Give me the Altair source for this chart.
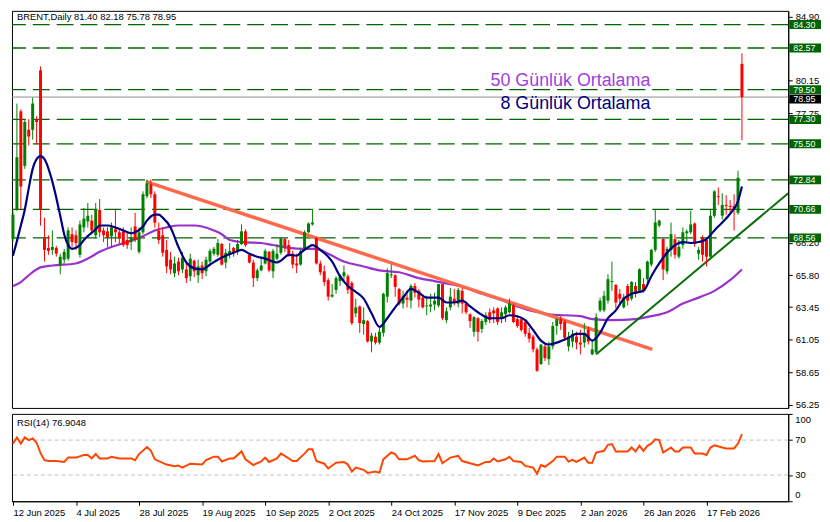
import altair as alt
import pandas as pd

# ---------------- data ----------------
opens = [
68.47, 70.63, 77.90, 73.87, 76.53, 76.53, 77.32, 80.92, 68.61, 67.82,
67.67, 67.82, 66.52, 66.95, 67.03, 68.83, 68.75, 67.31, 69.33, 69.77,
69.83, 68.75, 70.63, 69.11, 69.04, 68.68, 69.19, 68.97, 69.04, 68.40,
68.25, 69.40, 67.53, 68.97, 71.63, 72.50, 71.78, 69.11, 68.75, 67.67,
66.95, 65.95, 66.81, 66.23, 66.23, 65.73, 66.88, 65.80, 66.52, 66.09,
66.81, 67.39, 67.31, 68.11, 66.74, 67.31, 67.82, 67.53, 68.11, 69.04,
67.31, 66.74, 65.59, 66.16, 66.67, 67.53, 66.09, 67.03, 67.46, 68.47,
68.03, 67.39, 66.67, 66.59, 67.75, 68.97, 69.55, 68.54, 66.67, 66.09,
65.44, 64.22, 64.72, 65.37, 65.73, 65.73, 65.23, 62.99, 63.50, 62.20,
62.42, 60.91, 61.27, 60.83, 61.55, 64.22, 65.80, 65.80, 64.79, 63.71,
64.15, 63.93, 65.01, 64.65, 64.15, 63.50, 63.50, 63.64, 63.57, 65.15,
62.49, 63.43, 64.07, 63.71, 64.65, 63.71, 62.92, 61.63, 62.63, 61.84,
62.35, 63.07, 63.21, 63.35, 62.63, 62.92, 63.07, 63.57, 62.56, 62.56,
62.35, 61.55, 61.27, 60.33, 59.25, 60.55, 59.61, 60.55, 62.06, 62.56,
62.35, 60.55, 60.91, 61.27, 60.83, 60.83, 61.77, 59.97, 60.11, 63.21,
63.21, 63.93, 65.30, 65.08, 64.43, 63.43, 65.01, 64.07, 65.01, 64.65,
65.15, 65.51, 66.59, 67.67, 69.47, 68.47, 66.09, 67.67, 68.47, 67.17,
68.03, 68.90, 68.97, 69.62, 67.39, 68.61, 68.40, 67.17, 70.19, 71.63,
70.19, 70.99, 70.91, 70.91, 70.41, 81.40]

highs = [
70.55, 78.47, 78.04, 77.32, 77.32, 78.91, 77.54, 81.21, 70.05, 68.75,
69.11, 67.96, 67.39, 67.75, 69.33, 69.33, 69.11, 69.83, 70.77, 71.13,
70.27, 71.13, 71.42, 69.33, 69.33, 69.69, 70.70, 69.26, 69.33, 68.97,
69.33, 70.41, 69.33, 71.99, 72.86, 72.86, 71.99, 69.69, 69.33, 68.40,
67.53, 67.17, 67.10, 67.53, 66.67, 67.39, 66.95, 66.95, 66.81, 67.17,
67.75, 67.89, 68.47, 68.18, 67.75, 68.18, 67.89, 68.40, 69.55, 69.19,
67.39, 66.95, 66.31, 67.17, 67.75, 67.60, 67.75, 68.11, 68.54, 68.54,
68.40, 67.60, 67.39, 67.75, 69.11, 69.69, 70.70, 68.61, 66.88, 66.52,
65.59, 65.15, 65.73, 65.87, 66.52, 65.87, 65.37, 64.07, 63.57, 63.43,
62.49, 61.55, 61.55, 61.92, 64.51, 66.31, 66.59, 65.87, 64.87, 64.65,
64.65, 65.15, 65.23, 64.79, 64.29, 64.29, 64.43, 64.51, 65.15, 65.15,
63.43, 64.87, 64.79, 64.87, 64.87, 63.71, 62.99, 62.78, 62.71, 62.56,
63.07, 63.35, 63.43, 63.43, 63.43, 63.57, 64.07, 63.71, 62.85, 62.71,
62.49, 61.92, 61.41, 60.47, 60.69, 60.69, 60.91, 62.35, 62.63, 62.78,
62.49, 61.63, 61.77, 61.63, 61.77, 62.27, 61.99, 61.05, 62.99, 64.15,
64.65, 65.87, 66.81, 65.15, 64.79, 64.43, 65.15, 65.37, 65.30, 66.31,
65.59, 66.88, 67.75, 70.63, 69.91, 68.54, 67.89, 69.69, 68.83, 68.40,
69.33, 69.19, 70.55, 69.69, 67.89, 68.75, 68.54, 70.63, 72.07, 72.28,
71.85, 71.71, 71.35, 71.78, 73.51, 82.18]

lows = [
68.25, 70.55, 70.63, 73.65, 75.38, 75.81, 75.45, 69.47, 66.81, 67.31,
67.31, 67.17, 65.87, 66.67, 66.88, 67.89, 67.67, 67.10, 68.97, 69.33,
68.83, 68.54, 68.61, 68.25, 67.89, 67.89, 68.25, 68.11, 67.89, 67.75,
67.67, 68.25, 67.39, 68.83, 71.49, 71.49, 69.33, 68.11, 67.17, 65.95,
65.87, 65.66, 65.80, 65.95, 65.23, 65.37, 65.66, 65.23, 65.52, 65.73,
66.45, 67.24, 67.17, 66.52, 66.31, 67.03, 67.17, 67.31, 68.03, 67.89,
66.67, 64.94, 65.37, 66.09, 66.59, 66.02, 65.59, 66.88, 67.31, 67.53,
67.17, 66.31, 65.95, 66.52, 67.67, 68.90, 69.47, 66.59, 65.80, 65.01,
63.93, 64.15, 64.43, 65.01, 65.37, 64.43, 62.13, 62.71, 61.55, 61.41,
60.83, 60.11, 60.69, 60.69, 61.27, 63.79, 65.59, 64.22, 63.57, 63.35,
63.43, 63.35, 64.15, 63.43, 63.35, 62.85, 63.07, 63.21, 63.43, 62.49,
62.27, 63.21, 63.57, 63.43, 62.99, 62.92, 61.92, 61.27, 60.91, 61.55,
62.13, 62.27, 62.27, 62.13, 62.27, 62.35, 62.99, 62.27, 61.92, 61.63,
61.27, 60.83, 60.11, 58.67, 59.18, 59.47, 59.18, 60.33, 61.41, 61.77,
61.05, 60.19, 60.47, 60.33, 59.97, 60.47, 60.69, 59.90, 59.97, 63.07,
63.07, 63.71, 64.65, 63.35, 63.71, 63.35, 63.57, 63.93, 64.15, 64.51,
64.51, 65.23, 66.45, 67.53, 69.33, 65.44, 65.87, 67.17, 67.03, 67.03,
67.75, 68.25, 68.83, 67.89, 66.95, 66.81, 66.45, 66.95, 70.05, 70.99,
69.91, 70.27, 70.41, 69.11, 70.27, 75.78]

closes = [
70.27, 74.51, 72.35, 77.11, 76.03, 78.47, 77.11, 70.63, 67.67, 67.60,
67.89, 67.39, 67.17, 67.53, 69.11, 68.25, 68.18, 69.55, 69.98, 70.19,
69.11, 70.63, 68.97, 68.75, 68.61, 69.33, 68.97, 68.54, 68.03, 68.03,
68.54, 68.40, 68.97, 71.78, 72.57, 71.78, 69.69, 68.40, 67.46, 66.45,
66.23, 66.67, 66.09, 67.10, 65.59, 67.03, 66.09, 66.45, 65.95, 66.95,
67.60, 67.75, 68.18, 66.59, 67.46, 67.60, 67.46, 68.11, 69.04, 68.03,
66.74, 65.59, 66.16, 66.52, 67.60, 66.16, 67.60, 67.39, 68.54, 67.89,
67.31, 66.59, 66.52, 67.60, 68.97, 69.62, 69.69, 66.67, 66.02, 65.30,
64.22, 64.36, 65.59, 65.73, 66.02, 64.72, 62.27, 63.43, 62.27, 62.49,
60.91, 61.34, 60.83, 61.63, 64.43, 65.95, 65.87, 64.94, 63.71, 64.29,
64.00, 65.01, 64.51, 64.00, 63.43, 63.57, 63.64, 63.93, 65.15, 62.63,
63.14, 64.22, 63.79, 64.72, 63.71, 63.07, 62.42, 62.71, 61.63, 62.42,
62.85, 62.49, 62.99, 62.35, 63.07, 63.43, 63.71, 62.35, 62.06, 61.77,
61.48, 61.12, 60.33, 58.75, 60.69, 59.68, 60.55, 62.06, 62.56, 62.20,
61.19, 61.27, 61.48, 60.83, 60.69, 61.55, 60.91, 60.33, 62.71, 63.93,
64.29, 65.51, 65.37, 63.79, 64.07, 64.15, 63.93, 65.30, 64.43, 66.23,
64.65, 66.81, 67.67, 69.69, 69.83, 66.23, 67.75, 68.83, 67.31, 67.89,
68.97, 69.04, 69.55, 68.11, 67.67, 67.31, 67.17, 70.19, 71.99, 71.56,
70.99, 70.91, 70.84, 70.70, 73.00, 78.95]

ma8_idx = [0, 1, 2, 3, 4, 5, 6, 7, 8, 10, 12, 13, 14, 15, 17, 18, 21, 22, 24, 26, 28, 30, 31,
           33, 34, 36, 37, 38, 40, 42, 44, 46, 48, 50, 52, 54, 56, 58, 60, 62, 64, 66, 67, 68,
           70, 72, 73, 75, 76, 78, 80, 81, 83, 85, 87, 89, 91, 93, 95, 97, 99, 101, 103, 105,
           108, 110, 112, 114, 116, 118, 121, 124, 126, 128, 130, 132, 134, 136, 138, 141, 143,
           145, 147, 149, 151, 153, 155, 157, 160, 162, 164, 166, 168, 170, 172, 174, 176, 178,
           180, 182, 184, 185]
ma8_val = [67.24, 68.32, 69.47, 70.63, 72.21, 73.65, 74.37, 74.59, 74.37, 72.71, 70.19, 68.83,
           68.03, 67.75, 68.03, 68.40, 69.19, 69.47, 69.47, 69.33, 69.11, 68.90, 68.97, 69.40,
           69.83, 70.27, 70.27, 70.05, 69.33, 67.89, 66.74, 66.31, 66.23, 66.59, 66.95, 67.24,
           67.46, 67.67, 67.39, 67.17, 67.03, 66.81, 66.74, 66.88, 67.31, 67.24, 67.46, 67.89,
           68.03, 67.67, 67.17, 66.81, 65.73, 65.01, 64.58, 64.07, 63.00, 61.99, 62.63, 63.43,
           64.15, 64.79, 64.51, 64.15, 64.15, 63.79, 63.79, 63.93, 63.50, 63.07, 62.63, 62.63,
           62.85, 62.78, 62.49, 61.77, 60.98, 60.69, 60.83, 61.19, 61.48, 61.48, 60.98, 61.55,
           62.63, 63.21, 64.07, 64.43, 64.65, 65.73, 66.67, 67.46, 68.03, 68.25, 68.18, 68.25,
           68.47, 69.11, 69.69, 70.34, 71.27, 72.35]

ma50_idx = [0, 2, 4, 7, 10, 16, 19, 22, 25, 29, 33, 36, 39, 42, 46, 48, 51, 53, 55, 58, 63, 66,
            70, 74, 77, 80, 84, 89, 93, 98, 103, 107, 111, 115, 119, 123, 128, 132, 136, 140,
            144, 147, 152, 158, 162, 166, 170, 174, 178, 182, 185]
ma50_val = [65.01, 65.30, 65.80, 66.38, 66.52, 66.67, 67.03, 67.53, 67.89, 68.25, 68.68, 69.11,
            69.33, 69.47, 69.47, 69.40, 69.11, 68.83, 68.40, 68.25, 68.18, 68.03, 67.82, 67.75,
            67.75, 67.39, 66.81, 66.45, 66.16, 66.02, 65.59, 65.37, 65.15, 64.87, 64.43, 64.07,
            63.50, 63.14, 62.92, 62.85, 62.78, 62.56, 62.49, 62.56, 62.78, 63.07, 63.71, 64.15,
            64.65, 65.44, 66.23]

rsi_idx = [0, 1, 2, 3, 4, 5, 6, 7, 8, 9, 11, 13, 14, 16, 18, 19, 20, 21, 22, 24, 25, 27, 30, 31,
           32, 34, 35, 36, 38, 39, 41, 42, 43, 45, 48, 49, 51, 52, 53, 55, 56, 58, 59, 61, 63, 64,
           65, 67, 68, 69, 71, 72, 74, 75, 76, 77, 79, 80, 82, 84, 85, 86, 87, 89, 90, 92, 93, 94,
           96, 97, 98, 100, 102, 103, 104, 107, 108, 109, 111, 113, 114, 116, 118, 120, 121, 122,
           123, 125, 126, 127, 129, 130, 132, 133, 134, 135, 137, 138, 140, 141, 142, 143, 145,
           146, 147, 148, 150, 151, 152, 153, 156, 157, 158, 159, 160, 161, 162, 163, 164, 165,
           167, 168, 169, 170, 172, 173, 175, 176, 177, 178, 180, 181, 183, 184, 185]
rsi_val = [66, 73, 66, 73, 70, 72, 67, 55, 47, 46, 46, 45, 50, 50, 53, 53, 49, 54, 49, 49, 51, 49,
           49, 47, 54, 62, 58, 48, 44, 42, 40, 41, 38.5, 43, 42, 47, 51, 51, 45.5, 49, 49, 57, 48,
           41.5, 45.5, 50, 45, 49, 54.5, 52, 46, 46, 54.5, 59.5, 59.5, 46, 43, 37.5, 44, 45, 42,
           34, 38.5, 36, 32.5, 34, 32.5, 48, 55.8, 54, 48, 48, 52, 47, 45.5, 46, 54, 43.5, 50, 52,
           46, 43.5, 41, 45, 45, 49, 45.5, 48, 51, 46, 45, 40.5, 38.5, 31.5, 41.5, 39.5, 46, 51,
           51, 45.5, 47.3, 45, 50, 44, 44, 55.8, 57.7, 64.6, 65.4, 57, 57, 61.5, 57, 63.5, 57.7,
           63.5, 66, 71, 70, 55.8, 61.5, 57, 57, 61.5, 61.5, 54.6, 54.6, 53, 61.5, 64, 61.5, 60.4,
           60.4, 66, 76.9]

levels = [84.30, 82.57, 79.50, 77.30, 75.50, 72.84, 70.66, 68.56]
last_price = 78.95
price_ticks = [84.90, 80.15, 77.75, 68.20, 65.80, 63.45, 61.05, 58.65, 56.25]
rsi_ticks = [0, 30, 70, 100]
rsi_levels = [70, 30]
date_labels = ['12 Jun 2025', '4 Jul 2025', '28 Jul 2025', '19 Aug 2025', '10 Sep 2025', '2 Oct 2025',
               '24 Oct 2025', '17 Nov 2025', '9 Dec 2025', '2 Jan 2026', '26 Jan 2026', '17 Feb 2026']
date_ticks = [0, 16, 32, 48, 64, 80, 96, 112, 128, 144, 160, 176]
down_trend = ([33.75, 162.25], [72.71, 60.33])
up_trend = ([148, 196.75], [59.97, 71.85])
legend_texts = ['50 Günlük Ortalama', '8 Günlük Ortalama']
legend_prices = [80.13, 78.47]
legend_colors = ['#A040E0', '#000080']
header = 'BRENT,Daily  81.40 82.18 75.78 78.95'
rsi_header = 'RSI(14) 76.9048'

n = len(closes)
assert len(opens) == n == len(highs) == len(lows) == 186
assert len(ma8_idx) == len(ma8_val)
assert len(ma50_idx) == len(ma50_val)
assert len(rsi_idx) == len(rsi_val)

# ---------------- frames ----------------
candles = pd.DataFrame({'i': list(range(n)), 'open': opens, 'high': highs, 'low': lows, 'close': closes})
candles['dir'] = ['up' if c >= o else 'down' for o, c in zip(opens, closes)]
ma8 = pd.DataFrame({'i': ma8_idx, 'v': ma8_val})
ma50 = pd.DataFrame({'i': ma50_idx, 'v': ma50_val})
rsi = pd.DataFrame({'i': rsi_idx, 'v': rsi_val})
lv = pd.DataFrame({'p': levels, 'lab': [f'{v:.2f}' for v in levels]})
lp = pd.DataFrame({'p': [last_price], 'lab': [f'{last_price:.2f}']})
dt = pd.DataFrame({'i': down_trend[0], 'v': down_trend[1]})
ut = pd.DataFrame({'i': up_trend[0], 'v': up_trend[1]})
leg = pd.DataFrame({'t': legend_texts, 'p': legend_prices, 'c': legend_colors, 'i': [161.75, 161.75]})

W = 782
HM = 400
HR = 88
FONT = 'Liberation Sans'
FS = 9.5

xs = alt.Scale(domain=[-0.25, 196.75], nice=False, zero=False, padding=0)
ys = alt.Scale(domain=[56.01, 85.31], nice=False, zero=False, padding=0)
X = alt.X('i:Q', scale=xs, axis=None)

col = alt.Color('dir:N', scale=alt.Scale(domain=['up', 'down'], range=['#008000', '#FF0000']), legend=None)

yaxis = alt.Axis(orient='right', values=price_ticks, format='.2f', title=None, tickSize=4,
                 labelPadding=3, grid=False, labelOverlap=False)


def Y(field):
    return alt.Y(field, scale=ys, axis=yaxis)


hlines = alt.Chart(lv).mark_rule(color='#006400', strokeWidth=1.3, strokeDash=[17, 7]).encode(y=Y('p:Q'))
gline = alt.Chart(lp).mark_rule(color='#8C8C8C', strokeWidth=1).encode(y=Y('p:Q'))
wicks = alt.Chart(candles).mark_rule(strokeWidth=1).encode(x=X, y=Y('low:Q'), y2='high:Q', color=col)
bodies = alt.Chart(candles).mark_bar(size=3).encode(x=X, y=Y('open:Q'), y2='close:Q', color=col)
l50 = alt.Chart(ma50).mark_line(color='#9932CC', strokeWidth=2.2, interpolate='monotone').encode(x=X, y=Y('v:Q'))
l8 = alt.Chart(ma8).mark_line(color='#000080', strokeWidth=2.2, interpolate='monotone').encode(x=X, y=Y('v:Q'))
dtl = alt.Chart(dt).mark_line(color='#FF6A4D', strokeWidth=3.5, clip=True).encode(x=X, y=Y('v:Q'))
utl = alt.Chart(ut).mark_line(color='#0A6E0A', strokeWidth=2, clip=True).encode(x=X, y=Y('v:Q'))
legt = alt.Chart(leg).mark_text(align='right', baseline='middle', font=FONT, fontSize=18).encode(
    x=X, y=Y('p:Q'), text='t:N', color=alt.Color('c:N', scale=None))
hdr = alt.Chart(pd.DataFrame({'t': [header]})).mark_text(
    align='left', baseline='middle', font=FONT, fontSize=FS, color='black').encode(
    x=alt.value(5), y=alt.value(6), text='t:N')

boxes = alt.Chart(lv).mark_rect(color='#006400', yOffset=-4.5, y2Offset=4.5).encode(
    x=alt.value(W + 1), x2=alt.value(W + 33), y=Y('p:Q'), y2='p:Q')
boxt = alt.Chart(lv).mark_text(align='left', baseline='middle', font=FONT, fontSize=9, color='white').encode(
    x=alt.value(W + 5), y=Y('p:Q'), text='lab:N')
lbox = alt.Chart(lp).mark_rect(color='black', yOffset=-2.5, y2Offset=6.5).encode(
    x=alt.value(W + 1), x2=alt.value(W + 33), y=Y('p:Q'), y2='p:Q')
lboxt = alt.Chart(lp).mark_text(align='left', baseline='middle', font=FONT, fontSize=9, color='white',
                                dy=2).encode(
    x=alt.value(W + 5), y=Y('p:Q'), text='lab:N')

main = alt.layer(hlines, gline, l50, dtl, utl, wicks, bodies, l8, legt, hdr, boxes, boxt, lbox, lboxt).properties(
    width=W, height=HM)

# ---------------- RSI panel ----------------
rs = alt.Scale(domain=[0, 100], nice=False, zero=False, padding=0)
label_expr = '[' + ','.join(f"'{d}'" for d in date_labels) + '][round(datum.value/16)]'
xaxis = alt.Axis(values=date_ticks, labelExpr=label_expr, title=None, tickSize=4, labelAlign='left',
                 labelPadding=2, labelFlush=False, grid=False, labelOverlap=False)
raxis = alt.Axis(orient='right', values=rsi_ticks, title=None, tickSize=4, labels=False, grid=False)
rguides = alt.Chart(pd.DataFrame({'v': rsi_levels})).mark_rule(color='#C0C0C0', strokeDash=[4, 3]).encode(
    y=alt.Y('v:Q', scale=rs, axis=raxis))
rline = alt.Chart(rsi).mark_line(color='#FF4500', strokeWidth=2).encode(
    x=alt.X('i:Q', scale=xs, axis=xaxis), y=alt.Y('v:Q', scale=rs, axis=raxis))
rhdr = alt.Chart(pd.DataFrame({'t': [rsi_header]})).mark_text(
    align='left', baseline='middle', font=FONT, fontSize=FS, color='black').encode(
    x=alt.value(5), y=alt.value(9), text='t:N')
mid_ticks = pd.DataFrame({'v': rsi_ticks[1:3], 'lab': [str(v) for v in rsi_ticks[1:3]]})
top_tick = pd.DataFrame({'v': rsi_ticks[3:], 'lab': [str(v) for v in rsi_ticks[3:]]})
bot_tick = pd.DataFrame({'v': rsi_ticks[:1], 'lab': [str(v) for v in rsi_ticks[:1]]})
rl_mid = alt.Chart(mid_ticks).mark_text(align='left', baseline='middle', font=FONT, fontSize=FS,
                                        color='black').encode(
    x=alt.value(W + 7), y=alt.Y('v:Q', scale=rs, axis=raxis), text='lab:N')
rl_top = alt.Chart(top_tick).mark_text(align='left', baseline='top', font=FONT, fontSize=FS, color='black',
                                       dy=1).encode(
    x=alt.value(W + 7), y=alt.Y('v:Q', scale=rs, axis=raxis), text='lab:N')
rl_bot = alt.Chart(bot_tick).mark_text(align='left', baseline='bottom', font=FONT, fontSize=FS,
                                       color='black', dy=-1).encode(
    x=alt.value(W + 7), y=alt.Y('v:Q', scale=rs, axis=raxis), text='lab:N')
lower = alt.layer(rguides, rline, rhdr, rl_mid, rl_top, rl_bot).properties(width=W, height=HR)

chart = alt.vconcat(main, lower, spacing=3).properties(
    padding={'left': 0, 'top': 0, 'right': 0, 'bottom': 0}, background='white'
).configure_view(stroke='black', strokeWidth=1).configure_axis(
    labelFont=FONT, labelFontSize=FS, labelColor='black', tickColor='black', domainColor='black'
).resolve_scale(x='shared')

chart.save('out.html', embed_options={'renderer': 'svg', 'actions': False})
